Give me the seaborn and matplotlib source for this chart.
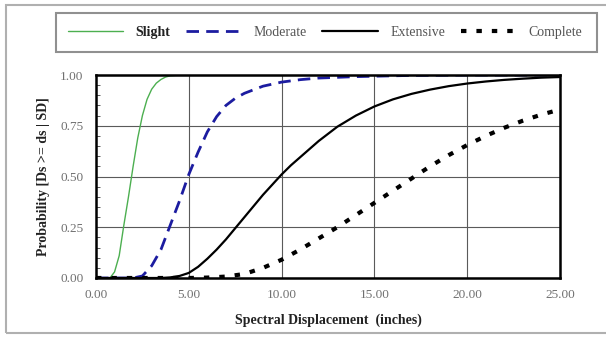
import pandas as pd
import seaborn as sns
import matplotlib.pyplot as plt
from matplotlib.patches import Rectangle
from matplotlib.ticker import MultipleLocator, FormatStrFormatter

# values
slight_x = [0.0, 0.5, 0.75, 1.0, 1.25, 1.5, 1.75, 2.0, 2.25, 2.5, 2.75, 3.0, 3.25, 3.5, 3.75, 4.0, 4.5, 5.0, 25.0]
slight_p = [0.0, 0.0, 0.0, 0.03, 0.11, 0.26, 0.40, 0.55, 0.69, 0.80, 0.88, 0.93, 0.96, 0.978, 0.99, 0.996, 1.0, 1.0, 1.0]

moderate_x = [0.0, 2.0, 2.5, 3.0, 3.5, 4.0, 4.5, 5.0, 5.5, 6.0, 6.5, 7.0, 7.5, 8.0, 9.0, 10.0, 11.0, 12.0, 14.0, 17.0, 20.0, 25.0]
moderate_p = [0.0, 0.0, 0.01, 0.06, 0.14, 0.26, 0.38, 0.51, 0.62, 0.72, 0.795, 0.85, 0.885, 0.91, 0.945, 0.965, 0.977, 0.985, 0.992, 0.998, 1.0, 1.0]

extensive_x = [0.0, 3.5, 4.0, 4.5, 5.0, 5.5, 6.0, 6.5, 7.0, 7.5, 8.0, 8.5, 9.0, 9.5, 10.0, 10.5, 11.0, 12.0, 13.0,
               14.0, 15.0, 16.0, 17.0, 18.0, 19.0, 20.0, 21.0, 22.0, 23.0, 24.0, 25.0]
extensive_p = [0.0, 0.0, 0.003, 0.01, 0.025, 0.055, 0.095, 0.14, 0.19, 0.245, 0.30, 0.355, 0.41, 0.46, 0.51, 0.555, 0.595,
               0.675, 0.745, 0.80, 0.845, 0.88, 0.907, 0.928, 0.945, 0.958, 0.968, 0.976, 0.982, 0.987, 0.99]

complete_x = [0.0, 5.0, 6.0, 7.0, 8.0, 9.0, 10.0, 11.0, 12.0, 13.0, 14.0, 15.0, 16.0, 17.0, 18.0, 19.0, 20.0,
              21.0, 22.0, 23.0, 24.0, 25.0]
complete_p = [0.0, 0.0, 0.002, 0.007, 0.02, 0.05, 0.09, 0.14, 0.195, 0.25, 0.31, 0.37, 0.43, 0.49, 0.55, 0.605, 0.655,
              0.70, 0.74, 0.775, 0.805, 0.83]

x_ticks = [0, 5, 10, 15, 20, 25]
y_ticks = [0.0, 0.25, 0.5, 0.75, 1.0]

sns.set_style("white")
plt.rcParams['font.family'] = ['Liberation Serif', 'DejaVu Serif']

fig = plt.figure(figsize=(6.06, 3.45), dpi=100)
ax = fig.add_axes([96 / 606, 1 - 278 / 345, 464 / 606, 203 / 345])

# outer chart border (right side runs off the picture)
fig.add_artist(Rectangle((6 / 606, 1 - 333 / 345), 1.2, 328 / 345, transform=fig.transFigure,
                         fill=False, edgecolor='#b0b0b0', linewidth=1.5))
# legend box
fig.add_artist(Rectangle((56 / 606, 1 - 52 / 345), 541 / 606, 39 / 345, transform=fig.transFigure,
                         fill=False, edgecolor='#909090', linewidth=1.5))

curves = [
    ('Slight', slight_x, slight_p, dict(color='#4caf50', linewidth=1.0)),
    ('Moderate', moderate_x, moderate_p, dict(color='#1c1ca0', linewidth=2.0, dashes=(4.5, 2.6))),
    ('Extensive', extensive_x, extensive_p, dict(color='black', linewidth=1.6)),
    ('Complete', complete_x, complete_p, dict(color='black', linewidth=3.0, dashes=(1.3, 2.4))),
]
for name, xs, ps, style in curves:
    df = pd.DataFrame({'sd': xs, 'prob': ps})
    sns.lineplot(data=df, x='sd', y='prob', ax=ax, label=name, **style)

ax.set_xlim(0, 25)
ax.set_ylim(0, 1)
ax.set_xticks(x_ticks)
ax.set_yticks(y_ticks)
ax.xaxis.set_major_formatter(FormatStrFormatter('%.2f'))
ax.yaxis.set_major_formatter(FormatStrFormatter('%.2f'))
ax.yaxis.set_minor_locator(MultipleLocator(0.05))
ax.tick_params(axis='x', which='major', length=0, labelsize=9.5, labelcolor='#707070', pad=8)
ax.tick_params(axis='y', which='major', length=0, labelsize=9.5, labelcolor='#707070', pad=9)
ax.tick_params(axis='y', which='minor', direction='in', length=3, width=0.6, left=True, color='#404040')
ax.grid(True, which='major', color='#5a5a5a', linewidth=0.8)
for sp in ax.spines.values():
    sp.set_color('black')
    sp.set_linewidth(1.8)

ax.set_xlabel('Spectral Displacement  (inches)', fontsize=10, fontweight='bold', color='#222222', labelpad=9)
ax.set_ylabel('Probability [Ds >= ds | SD]', fontsize=10, fontweight='bold', color='#222222', labelpad=7)

handles, labels = ax.get_legend_handles_labels()
ax.get_legend().remove()
leg = fig.legend(handles, labels, loc='center', ncol=4,
                 bbox_to_anchor=(325 / 606, 1 - 32.5 / 345),
                 fontsize=10, handlelength=4.0, handletextpad=0.9, frameon=False,
                 borderaxespad=0, columnspacing=1.1, borderpad=0)
for i, t in enumerate(leg.get_texts()):
    t.set_color('#222222' if i == 0 else '#555555')
    if i == 0:
        t.set_fontweight('bold')

fig.savefig('out.png', dpi=100)
